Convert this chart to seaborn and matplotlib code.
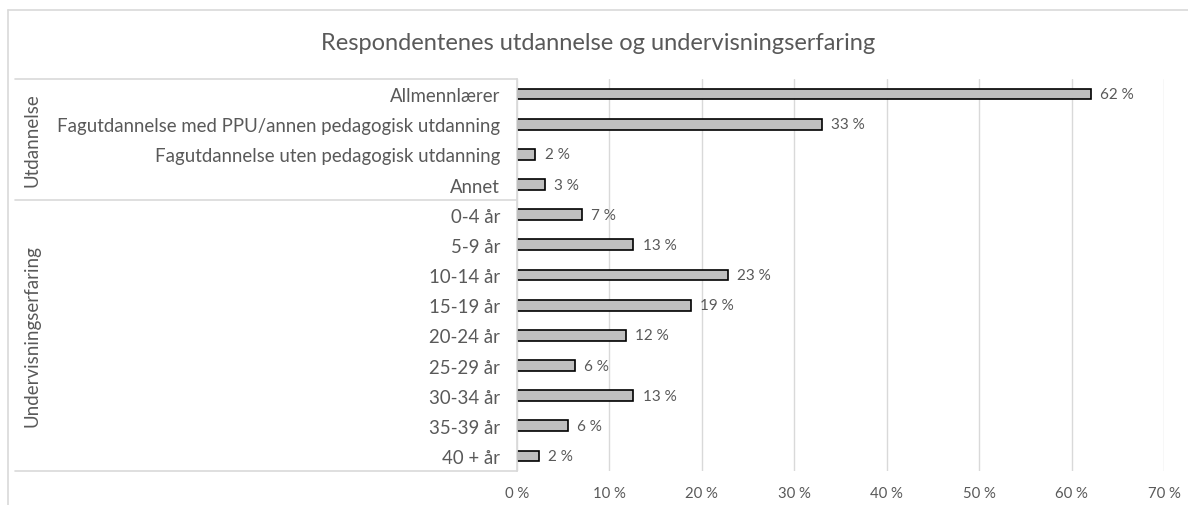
import pandas as pd
import seaborn as sns
import matplotlib.pyplot as plt
from matplotlib.transforms import blended_transform_factory
from matplotlib.ticker import FuncFormatter

# data
categories = ['Allmennlærer',
              'Fagutdannelse med PPU/annen pedagogisk utdanning',
              'Fagutdannelse uten pedagogisk utdanning',
              'Annet',
              '0-4 år', '5-9 år', '10-14 år', '15-19 år', '20-24 år',
              '25-29 år', '30-34 år', '35-39 år', '40 + år']
values = [62.1, 33.0, 2.0, 3.0, 7.0, 12.6, 22.8, 18.8, 11.8, 6.3, 12.6, 5.5, 2.4]
groups = ['Utdannelse', 'Undervisningserfaring']
group_sizes = [4, 9]
title = 'Respondentenes utdannelse og undervisningserfaring'

TEXT = '#595959'
GRID = '#d9d9d9'

sns.set_theme(style='white')
plt.rcParams['font.family'] = ['Lato', 'DejaVu Sans']

df = pd.DataFrame({'kategori': categories, 'andel': values})

fig = plt.figure(figsize=(11.88, 5.06), dpi=100)
ax = fig.add_axes([0.435, 0.067, 0.545, 0.775])

sns.barplot(data=df, x='andel', y='kategori', orient='h', color='#bfbfbf',
            edgecolor='black', linewidth=1.2, width=0.36, saturation=1, ax=ax)

ax.set_xlim(0, 70)
ax.set_ylim(len(categories) - 0.5, -0.5)
ax.set_xticks(range(0, 71, 10))
ax.xaxis.set_major_formatter(FuncFormatter(lambda v, p: f'{v:.0f} %'))
ax.grid(axis='x', color=GRID, linewidth=1)
ax.set_axisbelow(True)
for s in ['top', 'right', 'bottom']:
    ax.spines[s].set_visible(False)
ax.spines['left'].set_color(GRID)
ax.set_xlabel('')
ax.set_ylabel('')
ax.tick_params(axis='x', colors=TEXT, labelsize=10.7, length=0, pad=11)
ax.tick_params(axis='y', colors=TEXT, labelsize=13.4, length=0, pad=12)

for i, v in enumerate(values):
    ax.text(v + 1.0, i, f'{v:.0f} %', va='center', ha='left', fontsize=11, color=TEXT)

# group separators and rotated group labels left of the category labels
tr = blended_transform_factory(fig.transFigure, ax.transData)
x0 = 15 / 1188
x1 = ax.get_position().x0
edges = [-0.5]
for n in group_sizes:
    edges.append(edges[-1] + n)
for e in edges:
    ax.plot([x0, x1], [e, e], transform=tr, color=GRID, linewidth=1.2, clip_on=False)
for g, a, b in zip(groups, edges[:-1], edges[1:]):
    ax.text(32 / 1188, (a + b) / 2, g, transform=tr, rotation=90, ha='center',
            va='center', fontsize=13.5, color=TEXT)

# chart area border
fig.add_artist(plt.Line2D([8 / 1188, 1], [1 - 11 / 506] * 2, color=GRID, linewidth=1.2))
fig.add_artist(plt.Line2D([8 / 1188] * 2, [0, 1 - 11 / 506], color=GRID, linewidth=1.2))

fig.text(598 / 1188, 1 - 43 / 506, title, ha='center', va='center', fontsize=17,
         color=TEXT)

fig.savefig('out.png', dpi=100)
